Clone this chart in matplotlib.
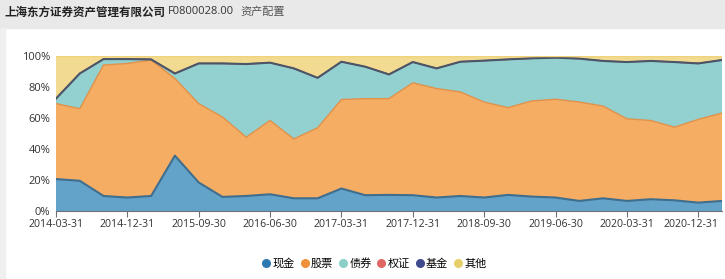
import matplotlib
matplotlib.use("Agg")
import matplotlib.pyplot as plt
import matplotlib.transforms as mtransforms
from matplotlib.lines import Line2D
import numpy as np

plt.rcParams['font.family'] = ['Open Sans', 'Noto Sans CJK SC', 'DejaVu Sans']

# 季度日期
dates = ["2014-03-31", "2014-06-30", "2014-09-30", "2014-12-31",
         "2015-03-31", "2015-06-30", "2015-09-30", "2015-12-31",
         "2016-03-31", "2016-06-30", "2016-09-30", "2016-12-31",
         "2017-03-31", "2017-06-30", "2017-09-30", "2017-12-31",
         "2018-03-31", "2018-06-30", "2018-09-30", "2018-12-31",
         "2019-03-31", "2019-06-30", "2019-09-30", "2019-12-31",
         "2020-03-31", "2020-06-30", "2020-09-30", "2020-12-31",
         "2021-03-31"]

# 各资产占比 (%)
cash = [20.6, 19.5, 9.7, 8.7, 9.7, 35.7, 18.4, 9.1, 9.7, 10.8, 8.2, 8.2,
        14.5, 10.2, 10.4, 10.2, 8.7, 9.7, 8.7, 10.4, 9.3, 8.7, 6.5, 8.2,
        6.5, 7.6, 6.9, 5.4, 6.5]
stock_top = [69.3, 66.0, 94.2, 95.2, 97.4, 85.5, 69.3, 60.6, 47.6, 58.4, 46.5, 53.7,
             71.9, 72.5, 72.5, 82.7, 79.0, 76.8, 70.3, 66.7, 71.0, 72.1, 70.3, 67.7,
             59.5, 58.4, 54.1, 59.1, 63.2]
bond_top = [72.5, 88.7, 98.0, 98.0, 97.8, 88.7, 95.2, 95.2, 94.8, 95.7, 92.0, 85.9,
            96.3, 93.1, 88.1, 96.1, 92.0, 96.3, 97.0, 97.8, 98.5, 98.9, 98.3, 96.8,
            96.1, 96.8, 96.1, 95.2, 97.4]

stock = [t - c for t, c in zip(stock_top, cash)]
bond = [b - s for b, s in zip(bond_top, stock_top)]
warrant = [0.0] * len(dates)
fund = [0.0] * len(dates)
other = [100 - b for b in bond_top]

names = ["现金", "股票", "债券", "权证", "基金", "其他"]
fill_cols = ["#5b9dc6", "#f5a85b", "#8dcfcf", "#e06666", "#3e4a8c", "#f2d98b"]
line_cols = ["#3f6e8e", "#e0914a", "#72b8b8", "#e06666", "#4b5568", "#efd27a"]
dot_cols = ["#2e7ab0", "#f0923a", "#8ccfc8", "#e06666", "#3e4a8c", "#e6cf6a"]

fig = plt.figure(figsize=(7.25, 2.79), dpi=100)

# 顶部灰色标题栏
fig.patches.append(plt.Rectangle((0, 0.90), 1, 0.10, transform=fig.transFigure,
                                 color="#e9e9e9", zorder=0))
fig.patches.append(plt.Rectangle((0, 0), 0.007, 0.90, transform=fig.transFigure,
                                 color="#f0f0f0", zorder=0))
fig.text(0.006, 0.957, "上海东方证券资产管理有限公司", fontsize=8.3, fontweight="bold",
         va="center", ha="left", color="#222222", family=['Noto Sans CJK SC', 'DejaVu Sans'])
fig.text(0.231, 0.957, "F0800028.00", fontsize=8, va="center", ha="left", color="#333333")
fig.text(0.331, 0.957, "资产配置", fontsize=8, va="center", ha="left", color="#555555",
         family=['Noto Sans CJK SC', 'DejaVu Sans'])

ax = fig.add_axes([0.0772, 0.2437, 0.9187, 0.5556])
x = np.arange(len(dates))
series = [cash, stock, bond, warrant, fund, other]
ax.stackplot(x, *series, colors=fill_cols, alpha=0.95, linewidth=0)
cum = np.cumsum(np.array(series), axis=0)
for i in range(len(series)):
    ax.plot(x, cum[i], color=line_cols[i], linewidth=1.5 if i in (0, 4) else 1.0)

ax.set_xlim(0, len(dates) - 1)
ax.set_ylim(0, 100)
ax.set_yticks([0, 20, 40, 60, 80, 100])
ax.set_yticklabels([f"{v}%" for v in [0, 20, 40, 60, 80, 100]], fontsize=8, color="#333333")
ax.set_xticks(x[::3])
ax.set_xticklabels(dates[::3], fontsize=7.6, color="#333333")
ax.tick_params(axis="y", length=0, pad=4)
ax.tick_params(axis="x", length=4, color="#6e7079", pad=2)
# 最后一个标签稍微左移, 避免被裁切
last = ax.get_xticklabels()[-1]
last.set_transform(last.get_transform() +
                   mtransforms.ScaledTranslation(-7 / 100, 0, fig.dpi_scale_trans))
for s in ["top", "right", "left"]:
    ax.spines[s].set_visible(False)
ax.spines["bottom"].set_color("#6e7079")

handles = [Line2D([], [], marker="o", linestyle="", markersize=5.5,
                  markerfacecolor=c, markeredgecolor=c) for c in dot_cols]
fig.legend(handles, names, loc="center", bbox_to_anchor=(0.517, 0.055), ncol=6,
           frameon=False, handlelength=0.6, handletextpad=0.25, columnspacing=0.6,
           prop={"family": ['Noto Sans CJK SC', 'DejaVu Sans'], "size": 8})

fig.savefig("out.png", dpi=100)
